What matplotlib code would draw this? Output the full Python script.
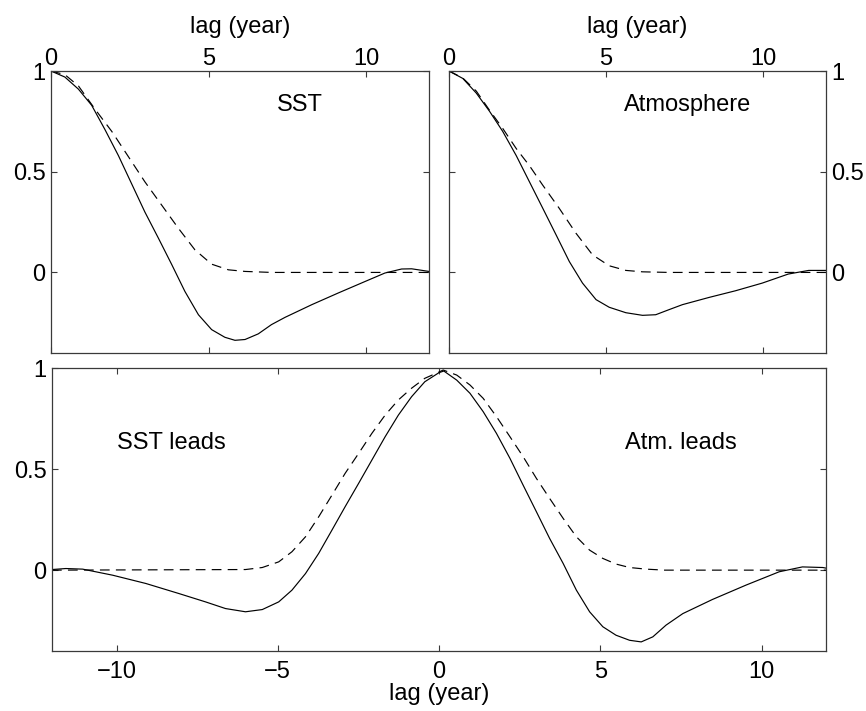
import matplotlib
matplotlib.use("Agg")
import matplotlib.pyplot as plt

plt.rcParams['font.family'] = ['Liberation Sans', 'DejaVu Sans']
plt.rcParams['lines.scale_dashes'] = False

# ---- Data ----
# Top-left: SST autocorrelation
sst_lag = [0, 0.44, 0.87, 1.29, 1.71, 2.14, 2.56, 2.98, 3.41, 3.83, 4.25, 4.68, 5.10,
           5.52, 5.84, 6.16, 6.58, 7.0, 7.43, 8.28, 9.12, 9.97, 10.6, 11.13, 11.45, 12.0]
sst_solid = [1.0, 0.97, 0.91, 0.83, 0.71, 0.58, 0.44, 0.30, 0.17, 0.04, -0.094, -0.21, -0.284,
             -0.322, -0.337, -0.333, -0.305, -0.259, -0.223, -0.160, -0.102, -0.045, -0.003,
             0.017, 0.018, 0.005]
sst_dash_lag = [0, 0.44, 0.87, 1.40, 1.93, 2.46, 2.98, 3.51, 4.04, 4.57, 5.10, 5.63, 6.16, 7.0, 12.0]
sst_dash = [1.0, 0.982, 0.926, 0.81, 0.70, 0.574, 0.45, 0.335, 0.22, 0.112, 0.041, 0.013, 0.005, 0.0, 0.0]

# Top-right: Atmosphere autocorrelation
atm_lag = [0, 0.44, 0.87, 1.29, 1.71, 2.14, 2.56, 2.98, 3.41, 3.83, 4.25, 4.68, 5.10, 5.63,
           6.16, 6.58, 7.0, 7.43, 8.28, 9.12, 9.97, 10.8, 11.45, 12.0]
atm_solid = [1.0, 0.963, 0.89, 0.80, 0.70, 0.58, 0.45, 0.32, 0.186, 0.054, -0.053, -0.135,
             -0.173, -0.20, -0.213, -0.21, -0.185, -0.16, -0.124, -0.091, -0.053, -0.008, 0.01, 0.01]
atm_dash_lag = [0, 0.44, 0.87, 1.29, 1.71, 2.14, 2.56, 2.98, 3.51, 4.04, 4.57, 5.10, 5.63, 6.16, 7.0, 12.0]
atm_dash = [1.0, 0.965, 0.90, 0.805, 0.715, 0.615, 0.53, 0.434, 0.318, 0.195, 0.087, 0.033, 0.01, 0.003, 0.0, 0.0]

# Bottom: cross-correlation
cc_lag = [-12, -11.57, -11.05, -10.12, -9.09, -8.06, -7.24, -6.62, -6.0, -5.48, -4.97, -4.56,
          -4.14, -3.73, -3.32, -2.91, -2.49, -2.08, -1.67, -1.26, -0.85, -0.44, 0,
          0.15, 0.55, 0.96, 1.37, 1.78, 2.2, 2.61, 3.02, 3.43, 3.85, 4.26, 4.67, 5.08, 5.49,
          5.91, 6.27, 6.63, 7.04, 7.56, 8.48, 9.52, 10.55, 11.27, 11.9, 12]
cc_solid = [0.003, 0.008, 0.005, -0.025, -0.066, -0.116, -0.157, -0.19, -0.206, -0.195, -0.157,
            -0.099, -0.017, 0.083, 0.198, 0.314, 0.43, 0.545, 0.66, 0.767, 0.858, 0.932, 0.977,
            0.985, 0.94, 0.875, 0.784, 0.677, 0.553, 0.42, 0.289, 0.157, 0.033, -0.099, -0.206,
            -0.28, -0.322, -0.347, -0.355, -0.33, -0.272, -0.215, -0.145, -0.074, -0.008, 0.016,
            0.013, 0.01]
cc_dash_lag = [-12, -6.0, -5.48, -4.97, -4.56, -4.14, -3.73, -3.32, -2.91, -2.49, -2.08, -1.67,
               -1.26, -0.85, -0.44, 0, 0.13, 0.55, 0.96, 1.37, 1.78, 2.2, 2.61, 3.02, 3.43, 3.85,
               4.26, 4.67, 5.08, 5.49, 5.91, 6.42, 7.0, 12]
cc_dash = [0, 0.003, 0.013, 0.041, 0.091, 0.165, 0.264, 0.371, 0.479, 0.578, 0.677, 0.767,
           0.842, 0.90, 0.949, 0.98, 0.99, 0.965, 0.916, 0.85, 0.76, 0.66, 0.561, 0.454, 0.355,
           0.256, 0.165, 0.099, 0.058, 0.03, 0.013, 0.005, 0.0, 0.0]

top_xticks = [0, 5, 10]
bot_xticks = [-10, -5, 0, 5, 10]
yticks = [0, 0.5, 1]
ytick_labels = ['0', '0.5', '1']
panel_labels = ['SST', 'Atmosphere', 'SST leads', 'Atm. leads']
xlabel = 'lag (year)'

# ---- Figure ----
W, H = 866, 711
fig = plt.figure(figsize=(W / 100, H / 100), dpi=100)
ax1 = fig.add_axes([51 / W, 1 - 353 / H, 378 / W, 282 / H])
ax2 = fig.add_axes([449 / W, 1 - 353 / H, 377 / W, 282 / H])
ax3 = fig.add_axes([52 / W, 1 - 651 / H, 774 / W, 283 / H])

FS = 17
LW = 0.85
DASH = (7, 4.5)
spine_col = '#3a3a3a'

def style(ax):
    for s in ax.spines.values():
        s.set_linewidth(0.9)
        s.set_color(spine_col)
    ax.tick_params(direction='in', top=True, right=True, length=4, width=0.8,
                   color=spine_col, labelsize=FS, pad=4)
    ax.set_yticks(yticks)
    ax.set_yticklabels(ytick_labels)
    ax.set_ylim(-0.4, 1.0)

# Top-left
ax1.plot(sst_lag, sst_solid, color='black', lw=LW)
ax1.plot(sst_dash_lag, sst_dash, color='black', lw=LW, dashes=DASH)
style(ax1)
ax1.set_xlim(0, 12)
ax1.set_xticks(top_xticks)
ax1.tick_params(axis='x', labeltop=True, labelbottom=False, pad=0.5)
ax1.xaxis.set_label_position('top')
ax1.set_xlabel(xlabel, fontsize=FS, labelpad=11)
ax1.text(7.9, 0.83, panel_labels[0], fontsize=FS, ha='center', va='center')

# Top-right
ax2.plot(atm_lag, atm_solid, color='black', lw=LW)
ax2.plot(atm_dash_lag, atm_dash, color='black', lw=LW, dashes=DASH)
style(ax2)
ax2.set_xlim(0, 12)
ax2.set_xticks(top_xticks)
ax2.tick_params(axis='x', labeltop=True, labelbottom=False, pad=0.5)
ax2.tick_params(axis='y', labelleft=False, labelright=True)
ax2.xaxis.set_label_position('top')
ax2.set_xlabel(xlabel, fontsize=FS, labelpad=11)
ax2.text(7.6, 0.83, panel_labels[1], fontsize=FS, ha='center', va='center')

# Bottom
ax3.plot(cc_lag, cc_solid, color='black', lw=LW)
ax3.plot(cc_dash_lag, cc_dash, color='black', lw=LW, dashes=DASH)
style(ax3)
ax3.set_xlim(-12, 12)
ax3.set_xticks(bot_xticks)
ax3.tick_params(axis='x', pad=7)
ax3.set_xlabel(xlabel, fontsize=FS, labelpad=0)
ax3.text(-8.3, 0.63, panel_labels[2], fontsize=FS, ha='center', va='center')
ax3.text(7.5, 0.63, panel_labels[3], fontsize=FS, ha='center', va='center')

fig.savefig('out.png', dpi=100)
